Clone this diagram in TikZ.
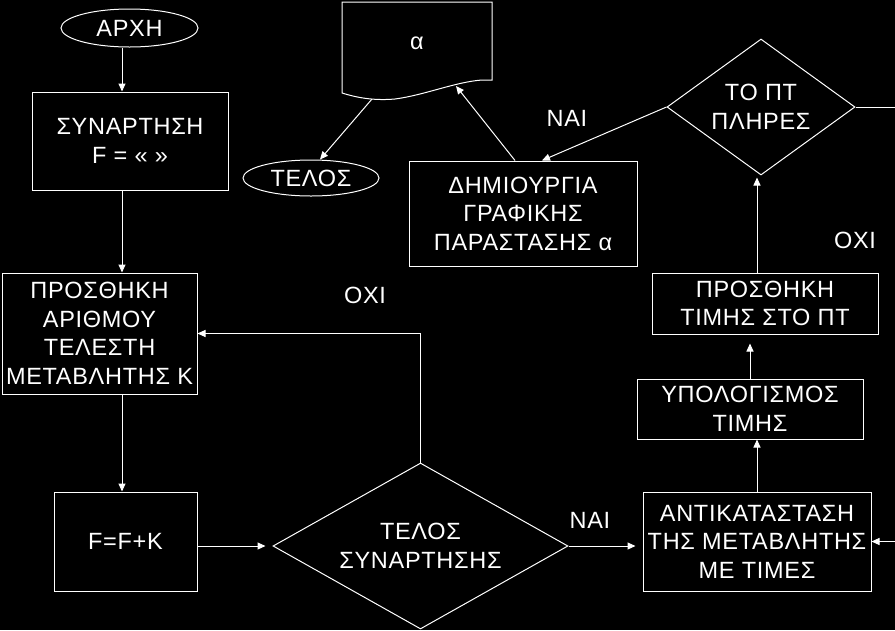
\documentclass[tikz,border=0pt]{standalone}
\usepackage{fontspec}
\setmainfont{Liberation Sans}[LetterSpace=3]
\usetikzlibrary{arrows.meta,shapes.geometric,calc}
\begin{document}
\begin{tikzpicture}[x=1pt,y=-1pt,
  every node/.style={text=white, font=\fontsize{23.5}{28.5}\selectfont, align=center, inner sep=0pt},
  box/.style={draw=white, line width=1pt, rectangle},
  ell/.style={draw=white, line width=1pt, ellipse},
  dia/.style={draw=white, line width=1pt, diamond},
  conn/.style={draw=white, line width=1pt},
  arr/.style={conn, -{Triangle[length=8pt,width=7pt]}}]
\useasboundingbox (0,0) rectangle (895,630);
\fill[black] (0,0) rectangle (895,630);

% nodes
\node[ell, minimum width=137pt, minimum height=38pt] (archi) at (129.5,28) {ΑΡΧΗ};
\node[box, minimum width=196pt, minimum height=98pt] (syn) at (130,141) {ΣΥΝΑΡΤΗΣΗ\\F = « »};
\node[box, minimum width=195pt, minimum height=121pt] (add) at (99.5,333.5) {ΠΡΟΣΘΗΚΗ\\ΑΡΙΘΜΟΥ\\ΤΕΛΕΣΤΗ\\ΜΕΤΑΒΛΗΤΗΣ Κ};
\node[box, minimum width=143pt, minimum height=99pt] (ffk) at (125.5,541.5) {F=F+K};
\node[dia, shape aspect=1.78, minimum width=295pt, minimum height=166pt] (dia1) at (420.5,546) {ΤΕΛΟΣ\\ΣΥΝΑΡΤΗΣΗΣ};
\node[box, minimum width=228pt, minimum height=99pt] (ant) at (757,541.5) {ΑΝΤΙΚΑΤΑΣΤΑΣΗ\\ΤΗΣ ΜΕΤΑΒΛΗΤΗΣ\\ΜΕ ΤΙΜΕΣ};
\node[box, minimum width=226pt, minimum height=60pt] (ypo) at (750,409) {ΥΠΟΛΟΓΙΣΜΟΣ\\ΤΙΜΗΣ};
\node[box, minimum width=226pt, minimum height=61pt] (prt) at (765,303.5) {ΠΡΟΣΘΗΚΗ\\ΤΙΜΗΣ ΣΤΟ ΠΤ};
\node[dia, shape aspect=1.38, minimum width=188pt, minimum height=136pt] (dia2) at (761,107) {ΤΟ ΠΤ\\ΠΛΗΡΕΣ};
\node[box, minimum width=228pt, minimum height=105pt] (dim) at (523,213.5) {ΔΗΜΙΟΥΡΓΙΑ\\ΓΡΑΦΙΚΗΣ\\ΠΑΡΑΣΤΑΣΗΣ α};
\node[ell, minimum width=136pt, minimum height=36pt] (telos) at (311,178) {ΤΕΛΟΣ};

% document shape
\draw[conn] (342,2) -- (492,2) -- (492,80) -- (482,80)
  .. controls (455,82) and (425,95) .. (395,99)
  .. controls (372,101) and (355,97) .. (342,93) -- cycle;
\node (doc) at (417,43) {α};

% labels
\node (no1) at (365,295) {ΟΧΙ};
\node (no2) at (855,240) {ΟΧΙ};
\node (yes1) at (567,118) {ΝΑΙ};
\node (yes2) at (590,520) {ΝΑΙ};

% helper coordinates
\coordinate (cx) at (122,0);
\coordinate (c757) at (757,0);
\coordinate (re1) at (895,107);
\coordinate (docin) at (456,86);
\coordinate (docout) at (372,99);

% connectors
\draw[arr] (archi.south -| cx) -- (syn.north -| cx);
\draw[arr] (syn.south -| cx) -- (add.north -| cx);
\draw[arr] (add.south -| cx) -- (ffk.north -| cx);
\draw[arr, shorten >=7pt] (ffk.east |- dia1.west) -- (dia1.west);
\draw[arr, shorten >=7pt] (dia1.east) -- (ant.west |- dia1.east);
\draw[arr] (dia1.north) |- (add.east);
\draw[arr] (ant.north) -- (ant.north |- ypo.south);
\draw[arr, shorten >=9pt] (ypo.north) -- (ypo.north |- prt.south);
\draw[arr, shorten >=2pt] (prt.north -| c757) -- (dia2.south -| c757);
\draw[arr] (dia2.west) -- ($(dim.north)+(19,0)$);
\draw[arr] ($(dim.north)+(-8,0)$) -- (docin);
\draw[arr] (docout) -- ($(telos.north)+(9,0)$);
\draw[conn] (dia2.east) -- (re1);
\draw[arr] (ant.east -| re1) -- (ant.east);
\end{tikzpicture}
\end{document}
